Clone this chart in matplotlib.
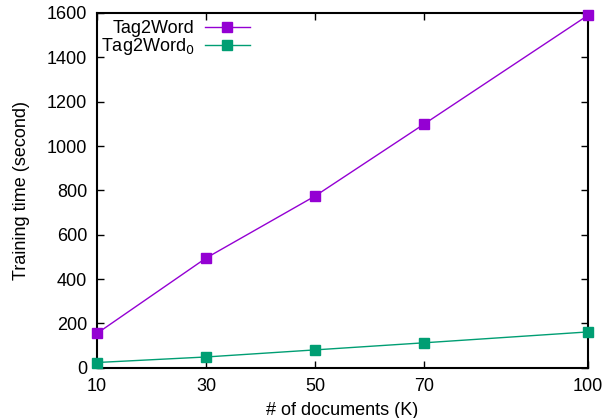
import matplotlib
matplotlib.use("Agg")
import matplotlib.pyplot as plt

# data
docs = [10, 30, 50, 70, 100]
tag2word = [155, 495, 775, 1100, 1590]
tag2word0 = [24, 49, 81, 113, 162]

plt.rcParams['font.family'] = ['Liberation Sans', 'DejaVu Sans']
plt.rcParams['font.size'] = 13

fig = plt.figure(figsize=(6.02, 4.18), dpi=100)
ax = fig.add_axes([0.161, 0.120, 0.816, 0.849])

ax.plot(docs, tag2word, color='#9400d3', lw=1, marker='s', ms=7,
        label='Tag2Word', clip_on=False, zorder=3)
ax.plot(docs, tag2word0, color='#009e73', lw=1, marker='s', ms=7,
        label='Tag2Word$_0$', clip_on=False, zorder=3)

ax.set_xlim(10, 100)
ax.set_ylim(0, 1600)
ax.set_xticks(docs)
ax.set_yticks(range(0, 1601, 200))
ax.tick_params(direction='in', top=True, right=True, length=5, width=1, pad=7)
for s in ax.spines.values():
    s.set_linewidth(1.5)

ax.set_xlabel('# of documents (K)', labelpad=5)
ax.set_ylabel('Training time (second)', labelpad=12)

leg = ax.legend(loc='upper left', markerfirst=False, frameon=False,
                handlelength=2.5, borderaxespad=0.0, borderpad=0.2,
                labelspacing=-0.05, handletextpad=0.6,
                bbox_to_anchor=(0.0, 0.99))
for t in leg.get_texts():
    t.set_ha('right')

fig.savefig('out.png', dpi=100)
